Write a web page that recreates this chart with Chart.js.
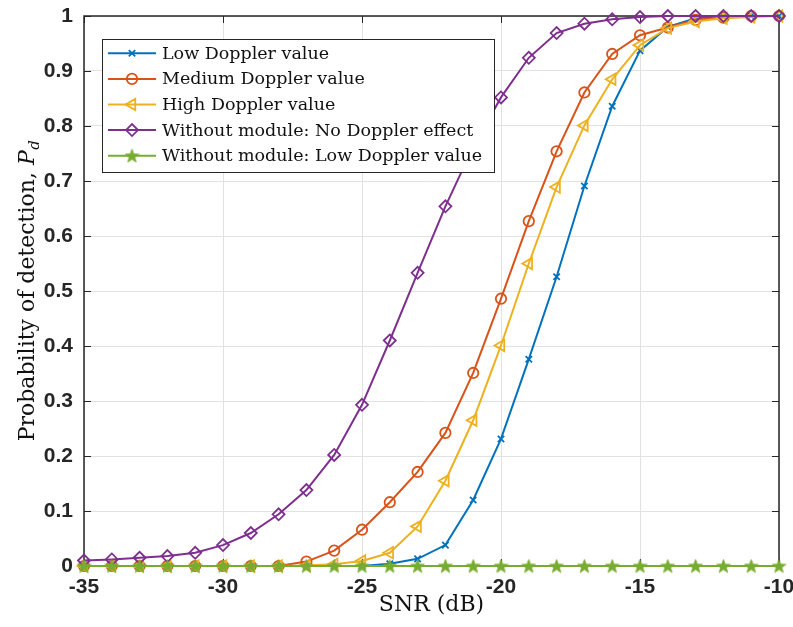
<!DOCTYPE html>
<html lang="en">
<head>
    <meta charset="UTF-8">
    <title>Probability of detection vs SNR</title>
    <script src="https://cdn.jsdelivr.net/npm/chart.js"></script>
    <style>
        html, body { margin: 0; padding: 0; background: #fff; }
        #wrap { width: 793px; height: 627px; }
    </style>
</head>
<body>
<div id="wrap"><canvas id="myChart" width="793" height="627"></canvas></div>
<script>
    // SNR values (dB)
    const snr = [-35, -34, -33, -32, -31, -30, -29, -28, -27, -26, -25, -24, -23,
                 -22, -21, -20, -19, -18, -17, -16, -15, -14, -13, -12, -11, -10];

    // probability of detection
    const lowDoppler = [0, 0, 0, 0, 0, 0, 0, 0, 0, 0, 0, 0.004, 0.013,
                        0.038, 0.120, 0.231, 0.376, 0.526, 0.691, 0.836, 0.937, 0.980, 0.996, 1, 1, 1];
    const mediumDoppler = [0, 0, 0, 0, 0, 0, 0, 0, 0.008, 0.028, 0.066, 0.116, 0.171,
                           0.242, 0.351, 0.486, 0.627, 0.754, 0.861, 0.931, 0.965, 0.979, 0.993, 0.997, 1, 1];
    const highDoppler = [0, 0, 0, 0, 0, 0, 0, 0, 0.001, 0.003, 0.009, 0.024, 0.072,
                         0.155, 0.265, 0.401, 0.550, 0.689, 0.801, 0.885, 0.947, 0.978, 0.990, 0.996, 0.998, 1];
    const noModuleNoDoppler = [0.010, 0.012, 0.015, 0.018, 0.024, 0.038, 0.060, 0.094, 0.138, 0.202, 0.293, 0.410, 0.533,
                               0.654, 0.762, 0.852, 0.924, 0.969, 0.986, 0.994, 0.998, 1, 1, 1, 1, 1];
    const noModuleLowDoppler = [0, 0, 0, 0, 0, 0, 0, 0, 0, 0, 0, 0, 0,
                                0, 0, 0, 0, 0, 0, 0, 0, 0, 0, 0, 0, 0];

    const seriesNames = ["Low Doppler value", "Medium Doppler value", "High Doppler value",
                         "Without module: No Doppler effect", "Without module: Low Doppler value"];

    const xTicks = [-35, -30, -25, -20, -15, -10];
    const yTicks = [0, 0.1, 0.2, 0.3, 0.4, 0.5, 0.6, 0.7, 0.8, 0.9, 1];

    const axisColor = "#262626";
    const tickFont = { family: "'Liberation Sans', Arial, sans-serif", size: 21, weight: "bold" };
    const serif = "'DejaVu Serif', serif";

    // filled pentagram marker (MATLAB style '-p')
    function makeStar(color, size) {
        const c = document.createElement("canvas");
        c.width = size; c.height = size;
        const g = c.getContext("2d");
        const cx = size / 2, cy = size / 2 + 0.6, R = size / 2 - 0.3, r = R * 0.42;
        g.beginPath();
        for (let i = 0; i < 10; i++) {
            const a = -Math.PI / 2 + i * Math.PI / 5;
            const rr = i % 2 === 0 ? R : r;
            g.lineTo(cx + rr * Math.cos(a), cy + rr * Math.sin(a));
        }
        g.closePath();
        g.fillStyle = color;
        g.fill();
        g.lineWidth = 0.8;
        g.strokeStyle = color;
        g.stroke();
        return c;
    }
    const starImg = makeStar("#77AC30", 15);

    function pts(arr) {
        return snr.map((x, i) => ({ x: x, y: arr[i] }));
    }

    function ds(label, arr, color, style, radius, rotation, order) {
        return {
            label: label,
            data: pts(arr),
            borderColor: color,
            backgroundColor: color,
            borderWidth: 2,
            pointStyle: style,
            pointRadius: radius,
            pointRotation: rotation,
            pointBorderColor: color,
            pointBackgroundColor: "rgba(0,0,0,0)",
            pointBorderWidth: 1.8,
            tension: 0,
            clip: false,
            order: order
        };
    }

    const datasets = [
        ds(seriesNames[0], lowDoppler, "#0072BD", "crossRot", 4.5, 0, 5),
        ds(seriesNames[1], mediumDoppler, "#D95319", "circle", 5.2, 0, 4),
        ds(seriesNames[2], highDoppler, "#EDB120", "triangle", 6.5, -90, 3),
        ds(seriesNames[3], noModuleNoDoppler, "#7E2F8E", "rectRot", 6, 0, 2),
        ds(seriesNames[4], noModuleLowDoppler, "#77AC30", starImg, 7, 0, 1)
    ];

    // box around the axes with inward ticks, like MATLAB
    const framePlugin = {
        id: "frame",
        beforeDatasetsDraw(chart) {
            const { ctx, chartArea: a, scales } = chart;
            ctx.save();
            ctx.strokeStyle = axisColor;
            ctx.lineWidth = 1.5;
            ctx.strokeRect(a.left, a.top, a.right - a.left, a.bottom - a.top);
            ctx.lineWidth = 1;
            ctx.beginPath();
            xTicks.forEach(v => {
                const x = Math.round(scales.x.getPixelForValue(v)) + 0.5;
                ctx.moveTo(x, a.bottom); ctx.lineTo(x, a.bottom - 7);
                ctx.moveTo(x, a.top); ctx.lineTo(x, a.top + 7);
            });
            yTicks.forEach(v => {
                const y = Math.round(scales.y.getPixelForValue(v)) + 0.5;
                ctx.moveTo(a.left, y); ctx.lineTo(a.left + 7, y);
                ctx.moveTo(a.right, y); ctx.lineTo(a.right - 7, y);
            });
            ctx.stroke();
            ctx.restore();
        }
    };

    // legend box in the upper left and the axis titles
    const legendPlugin = {
        id: "mlegend",
        afterDatasetsDraw(chart) {
            const ctx = chart.ctx;
            const box = { left: 102, top: 39.5, right: 494, bottom: 172.5 };
            const rowY0 = 53.3, rowH = 25.6;
            ctx.save();
            ctx.fillStyle = "#fff";
            ctx.fillRect(box.left, box.top, box.right - box.left, box.bottom - box.top);
            ctx.strokeStyle = axisColor;
            ctx.lineWidth = 1;
            ctx.strokeRect(box.left + 0.5, box.top, box.right - box.left, box.bottom - box.top);
            chart.data.datasets.forEach((d, i) => {
                const y = rowY0 + i * rowH;
                ctx.strokeStyle = d.borderColor;
                ctx.lineWidth = 2;
                ctx.beginPath();
                ctx.moveTo(108, y); ctx.lineTo(156, y);
                ctx.stroke();
                ctx.lineWidth = d.pointBorderWidth;
                ctx.fillStyle = d.pointBackgroundColor;
                Chart.helpers.drawPoint(ctx, {
                    pointStyle: d.pointStyle,
                    radius: d.pointRadius,
                    rotation: d.pointRotation,
                    borderWidth: d.pointBorderWidth
                }, 132, y);
                ctx.fillStyle = "#111";
                ctx.font = "17.5px " + serif;
                ctx.textBaseline = "middle";
                ctx.textAlign = "left";
                ctx.fillText(d.label, 162, y + 1);
            });

            // x title
            const a = chart.chartArea;
            ctx.fillStyle = "#111";
            ctx.font = "22px " + serif;
            ctx.textAlign = "center";
            ctx.textBaseline = "alphabetic";
            ctx.fillText("SNR (dB)", (a.left + a.right) / 2, 611);

            // y title with italic P and subscript d
            const main = "Probability of detection, ";
            ctx.font = "22px " + serif;
            const w1 = ctx.measureText(main).width;
            ctx.font = "italic 22px " + serif;
            const w2 = ctx.measureText("P").width;
            ctx.font = "italic 15px " + serif;
            const w3 = ctx.measureText("d").width;
            const total = w1 + w2 + w3;
            ctx.translate(34, (a.top + a.bottom) / 2);
            ctx.rotate(-Math.PI / 2);
            ctx.textAlign = "left";
            let x0 = -total / 2;
            ctx.font = "22px " + serif;
            ctx.fillText(main, x0, 0);
            ctx.font = "italic 22px " + serif;
            ctx.fillText("P", x0 + w1, 0);
            ctx.font = "italic 15px " + serif;
            ctx.fillText("d", x0 + w1 + w2 + 0.5, 5);
            ctx.restore();
        }
    };

    const ctx = document.getElementById("myChart").getContext("2d");
    const myChart = new Chart(ctx, {
        type: "line",
        data: { datasets: datasets },
        options: {
            responsive: false,
            animation: false,
            layout: { padding: { top: 16, right: 14, left: 0, bottom: 0 } },
            plugins: {
                legend: { display: false },
                tooltip: { enabled: false },
                title: { display: false }
            },
            scales: {
                x: {
                    type: "linear",
                    min: -35,
                    max: -10,
                    afterBuildTicks: (scale) => { scale.ticks = xTicks.map(v => ({ value: v })); },
                    afterFit: (scale) => { scale.height = 61; scale.paddingLeft = 0; scale.paddingRight = 0; },
                    ticks: {
                        font: tickFont,
                        color: axisColor,
                        padding: 9,
                        maxRotation: 0,
                        autoSkip: false,
                        callback: (v) => String(v)
                    },
                    grid: { color: "#e2e2e2", lineWidth: 1, drawTicks: false },
                    border: { display: false }
                },
                y: {
                    min: 0,
                    max: 1,
                    afterBuildTicks: (scale) => { scale.ticks = yTicks.map(v => ({ value: v })); },
                    afterFit: (scale) => { scale.width = 84; scale.paddingTop = 0; scale.paddingBottom = 0; },
                    ticks: {
                        font: tickFont,
                        color: axisColor,
                        padding: 11,
                        callback: (v) => String(Math.round(v * 10) / 10)
                    },
                    grid: { color: "#e2e2e2", lineWidth: 1, drawTicks: false },
                    border: { display: false }
                }
            }
        },
        plugins: [framePlugin, legendPlugin]
    });
</script>
</body>
</html>
